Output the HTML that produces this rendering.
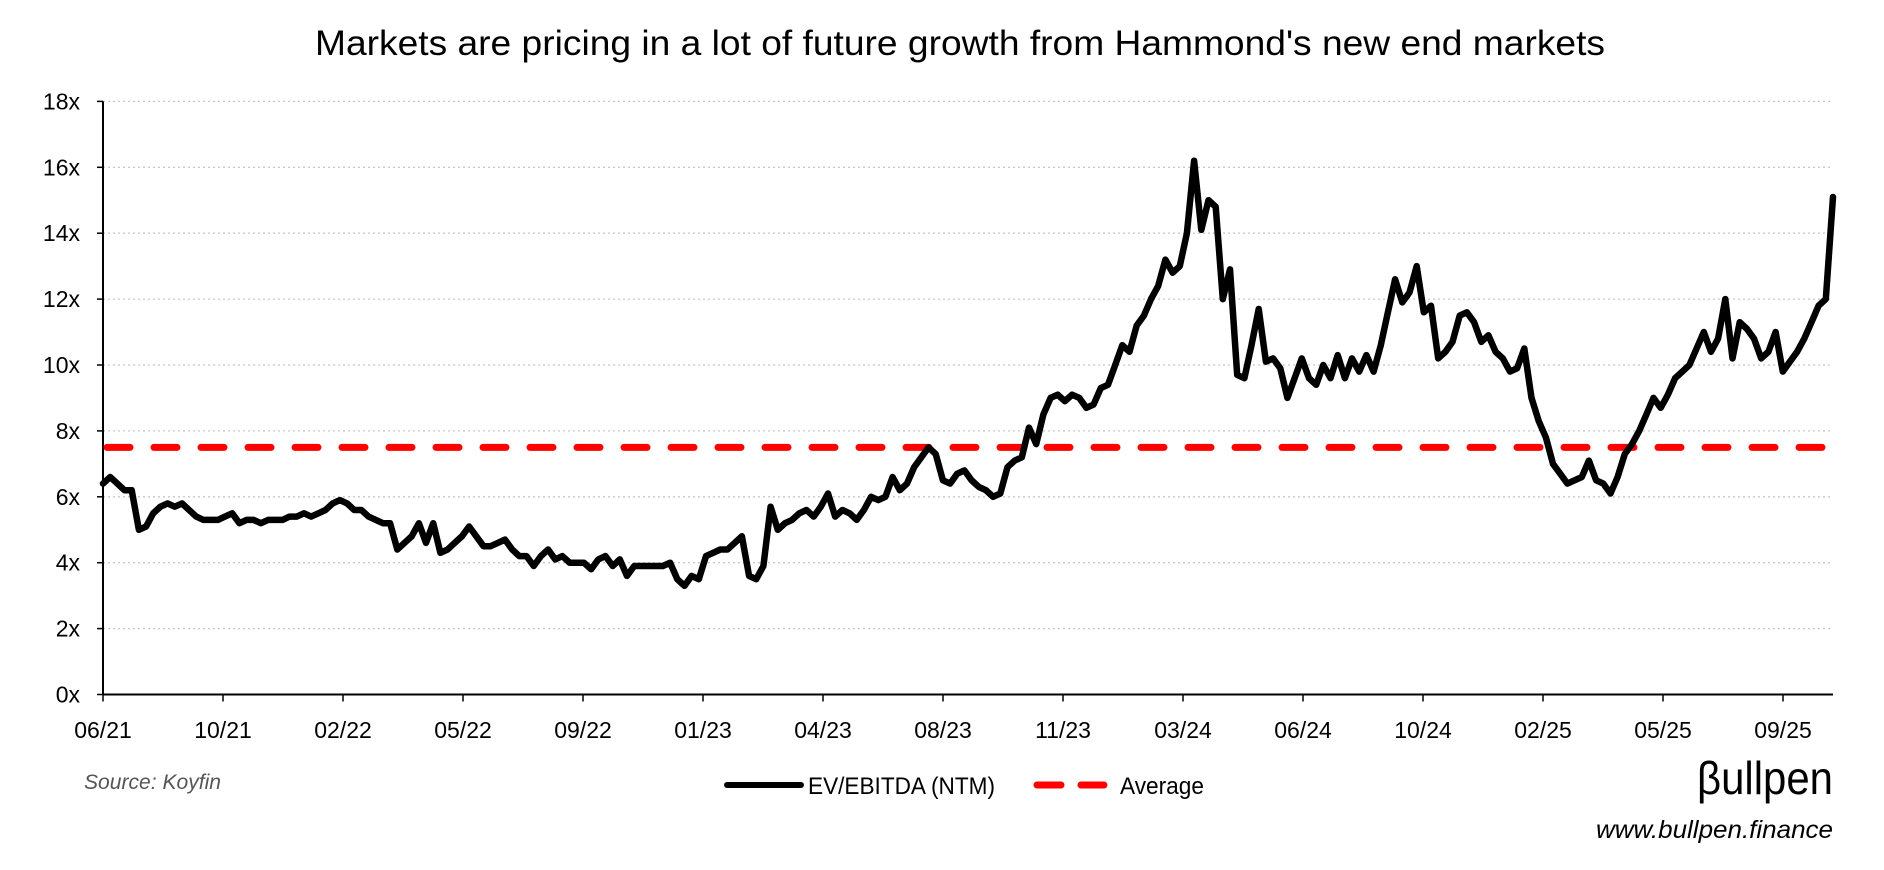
<!DOCTYPE html>
<html><head><meta charset="utf-8"><style>
html,body{margin:0;padding:0;background:#fff;}
svg{display:block;font-family:"Liberation Sans",sans-serif;}
</style></head><body>
<svg id="chart" width="1884" height="870" viewBox="0 0 1884 870" xmlns="http://www.w3.org/2000/svg">
<text x="960" y="55" text-anchor="middle" font-size="35" textLength="1290" lengthAdjust="spacingAndGlyphs" fill="#000">Markets are pricing in a lot of future growth from Hammond's new end markets</text>
<g id="grid"></g>
<g id="yaxis"></g>
<g id="xaxis"></g>
<g id="series"></g>
<g>
  <line x1="727" y1="785" x2="801" y2="785" stroke="#000" stroke-width="6" stroke-linecap="round"/>
  <text x="808" y="794" font-size="24" fill="#000" textLength="187" lengthAdjust="spacingAndGlyphs">EV/EBITDA (NTM)</text>
  <line x1="1037" y1="785" x2="1104" y2="785" stroke="#f00" stroke-width="7" stroke-dasharray="24 20" stroke-linecap="round"/>
  <text x="1120" y="794" font-size="24" fill="#000" textLength="84" lengthAdjust="spacingAndGlyphs">Average</text>
</g>
<text x="84" y="789" font-size="21" font-style="italic" fill="#555" textLength="137" lengthAdjust="spacingAndGlyphs">Source: Koyfin</text>
<text x="1833" y="794" text-anchor="end" font-size="46" fill="#000" textLength="136" lengthAdjust="spacingAndGlyphs">βullpen</text>
<text x="1833" y="838" text-anchor="end" font-size="25" font-style="italic" fill="#000" textLength="237" lengthAdjust="spacingAndGlyphs">www.bullpen.finance</text>
</svg>
<script>
const yTickValues = [0,2,4,6,8,10,12,14,16,18];
const xTickLabels = ["06/21","10/21","02/22","05/22","09/22","01/23","04/23","08/23","11/23","03/24","06/24","10/24","02/25","05/25","09/25"];
const averageValue = 7.5;
const evEbitda = [6.4,6.6,6.4,6.2,6.2,5.0,5.1,5.5,5.7,5.8,5.7,5.8,5.6,5.4,5.3,5.3,5.3,5.4,5.5,5.2,
5.3,5.3,5.2,5.3,5.3,5.3,5.4,5.4,5.5,5.4,5.5,5.6,5.8,5.9,5.8,5.6,5.6,5.4,5.3,5.2,
5.2,4.4,4.6,4.8,5.2,4.6,5.2,4.3,4.4,4.6,4.8,5.1,4.8,4.5,4.5,4.6,4.7,4.4,4.2,4.2,
3.9,4.2,4.4,4.1,4.2,4.0,4.0,4.0,3.8,4.1,4.2,3.9,4.1,3.6,3.9,3.9,3.9,3.9,3.9,4.0,
3.5,3.3,3.6,3.5,4.2,4.3,4.4,4.4,4.6,4.8,3.6,3.5,3.9,5.7,5.0,5.2,5.3,5.5,5.6,5.4,
5.7,6.1,5.4,5.6,5.5,5.3,5.6,6.0,5.9,6.0,6.6,6.2,6.4,6.9,7.2,7.5,7.3,6.5,6.4,6.7,
6.8,6.5,6.3,6.2,6.0,6.1,6.9,7.1,7.2,8.1,7.6,8.5,9.0,9.1,8.9,9.1,9.0,8.7,8.8,9.3,
9.4,10.0,10.6,10.4,11.2,11.5,12.0,12.4,13.2,12.8,13.0,14.0,16.2,14.1,15.0,14.8,12.0,12.9,9.7,9.6,
10.6,11.7,10.1,10.2,9.9,9.0,9.6,10.2,9.6,9.4,10.0,9.6,10.3,9.6,10.2,9.8,10.3,9.8,10.6,11.6,
12.6,11.9,12.2,13.0,11.6,11.8,10.2,10.4,10.7,11.5,11.6,11.3,10.7,10.9,10.4,10.2,9.8,9.9,10.5,9.0,
8.3,7.8,7.0,6.7,6.4,6.5,6.6,7.1,6.5,6.4,6.1,6.6,7.3,7.6,8.0,8.5,9.0,8.7,9.1,9.6,
9.8,10.0,10.5,11.0,10.4,10.8,12.0,10.2,11.3,11.1,10.8,10.2,10.4,11.0,9.8,10.1,10.4,10.8,11.3,11.8,
12.0,15.1];

const NS = "http://www.w3.org/2000/svg";
const X0 = 103, X1 = 1833, Y0 = 694.5, Y18 = 101.4;
const tickSpacing = 120;
function yScale(v){ return Y0 - (v/18)*(Y0-Y18); }
function xScale(i){ return X0 + i*(X1-X0)/(evEbitda.length-1); }
function xTick(i){ return X0 + i*tickSpacing; }
function mk(tag, attrs, parent){ const e=document.createElementNS(NS,tag); for(const k in attrs) e.setAttribute(k,attrs[k]); parent.appendChild(e); return e; }

const grid=document.getElementById('grid'), yaxis=document.getElementById('yaxis'), xaxis=document.getElementById('xaxis'), series=document.getElementById('series');
yTickValues.forEach(v=>{
  const y=yScale(v);
  if(v>0){
    const g=mk('line',{x1:X0,x2:X1,y1:y,y2:y,stroke:'#c8c8c8','stroke-width':1.3,'stroke-dasharray':'2 3'},grid);
    
    
  }
  const t=mk('line',{x1:X0-6,x2:X0,y1:y,y2:y,stroke:'#000','stroke-width':1.5},yaxis);
  
  
  const l=mk('text',{x:80,y:y+8,'text-anchor':'end','font-size':23,fill:'#000'},yaxis);
  l.textContent=v+'x';
  
  
});
const ya=mk('line',{x1:X0,x2:X0,y1:Y18,y2:Y0,stroke:'#000','stroke-width':2},yaxis);


xTickLabels.forEach((lab,i)=>{
  const x=xTick(i);
  const t=mk('line',{x1:x,x2:x,y1:Y0,y2:Y0+7,stroke:'#000','stroke-width':1.5},xaxis);
  
  
  const l=mk('text',{x:x,y:738,'text-anchor':'middle','font-size':23,fill:'#000'},xaxis);
  l.textContent=lab;
  
  
});
const xa=mk('line',{x1:X0,x2:X1,y1:Y0,y2:Y0,stroke:'#000','stroke-width':2},xaxis);



const avg=mk('line',{x1:X0+4,x2:X1,y1:yScale(averageValue),y2:yScale(averageValue),stroke:'#f00','stroke-width':7,'stroke-dasharray':'23 24','stroke-linecap':'round'},series);


const pts=evEbitda.map((v,i)=>xScale(i).toFixed(1)+','+yScale(v).toFixed(1)).join(' ');
const pl=mk('polyline',{points:pts,fill:'none',stroke:'#000','stroke-width':6.5,'stroke-linejoin':'round','stroke-linecap':'round'},series);


</script>
</body></html>
